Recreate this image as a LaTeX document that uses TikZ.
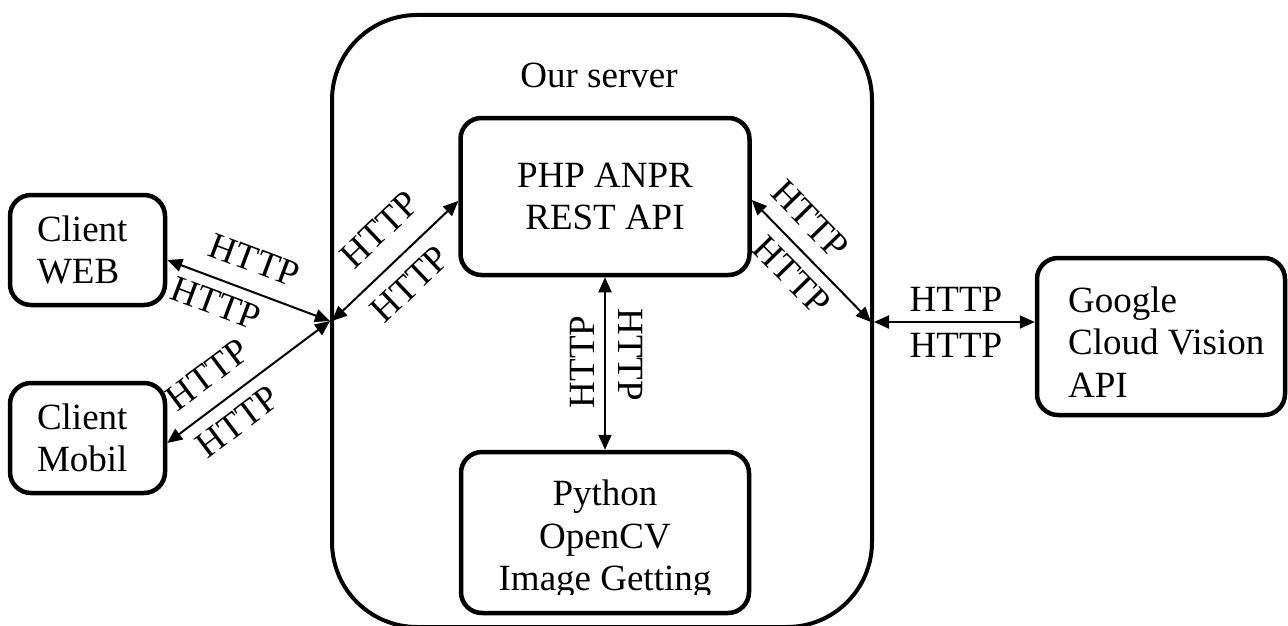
\documentclass[tikz,border=0pt]{standalone}
\usepackage{fontspec}
\setmainfont{Liberation Serif}
\usetikzlibrary{arrows.meta,calc}
\begin{document}
\begin{tikzpicture}[x=1pt,y=-1pt,
  every node/.style={font=\fontsize{37}{42.5}\selectfont},
  rbox/.style={draw, line width=4.5pt, rounded corners=21pt, inner sep=0pt},
  srvbox/.style={draw, line width=4pt, rounded corners=85pt, inner sep=0pt},
  conn/.style={line width=2pt, {Triangle[length=15pt,width=13pt]}-{Triangle[length=15pt,width=13pt]}},
  lbl/.style={inner sep=0pt, sloped},
  txt/.style={inner sep=0pt}
]
\useasboundingbox (0,0) rectangle (1288,626);

% server frame and its caption
\node[srvbox, minimum width=540pt, minimum height=612pt] (srv) at (602,321) {};
\node[txt, anchor=base] (srvlbl) at (599,88) {Our server};

% clients
\node[rbox, minimum width=155pt, minimum height=110pt, text width=101pt, align=left] (web) at (87.5,250) {Client\\WEB};
\node[rbox, minimum width=155pt, minimum height=110pt, text width=101pt, align=left] (mob) at (87.5,438) {Client\\Mobil};

% services inside the server
\node[rbox, minimum width=289pt, minimum height=157pt, align=center] (php) at (605,196.5) {PHP ANPR\\REST API};
\node[rbox, minimum width=288pt, minimum height=161pt] (py) at (605,532.5) {};
\begin{scope}
  \clip (440,440) rectangle (770,594);
  \node[txt, anchor=north, align=center] (pytext) at (605,479.7) {Python\\OpenCV\\Image Getting};
\end{scope}

% external service
\node[rbox, minimum width=248pt, minimum height=157pt] (ggl) at (1161,336.5) {};
\node[txt, anchor=north west, align=left] (ggltext) at (1068,286.3) {Google\\Cloud Vision\\API};

% junction points on the server frame
\coordinate (jlo) at (srv.west);
\coordinate (jli) at ([xshift=2pt]srv.west);
\coordinate (jro) at ([yshift=-1pt]srv.east);
\coordinate (jri) at ([xshift=-3pt,yshift=-1pt]srv.east);

% connectors
\draw[conn] ([yshift=-10pt]web.east) -- (jlo)
  node[lbl, pos=0.47, above=17.5pt] (w1) {HTTP}
  node[lbl, pos=0.35, below=10pt] (w2) {HTTP};
\draw[conn] ([yshift=-5pt]mob.east) -- (jlo)
  node[lbl, pos=0.36, above=17.5pt] (m1) {HTTP}
  node[lbl, pos=0.34, below=12pt] (m2) {HTTP};
\draw[conn] (jli) -- ([yshift=-4.5pt]php.west)
  node[lbl, pos=0.56, above=20.5pt] (p1) {HTTP}
  node[lbl, pos=0.47, below=14pt] (p2) {HTTP};
\draw[conn] ([yshift=-3.5pt]php.east) -- (jri)
  node[lbl, pos=0.32, above=15pt] (r1) {HTTP}
  node[lbl, pos=0.48, below=11pt] (r2) {HTTP};
\draw[conn] (jro) -- ([yshift=14.5pt]ggl.west)
  node[lbl, pos=0.51, above=10pt] (g1) {HTTP}
  node[lbl, pos=0.51, below=10pt] (g2) {HTTP};
\draw[conn] (php.south) -- (py.north);
\node[txt, rotate=90, anchor=south] (v1) at ($(php.south)!0.49!(py.north)+(-10.5,0)$) {HTTP};
\node[txt, rotate=-90, anchor=south] (v2) at ($(php.south)!0.45!(py.north)+(13.5,0)$) {HTTP};
\end{tikzpicture}
\end{document}
